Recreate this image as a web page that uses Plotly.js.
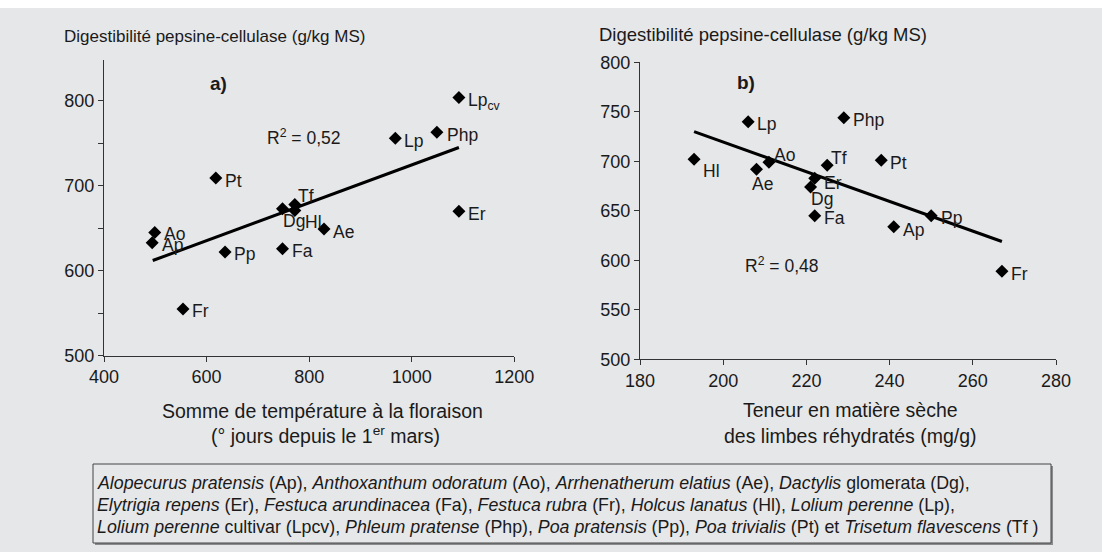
<!DOCTYPE html>
<html>
<head>
<meta charset="utf-8">
<script src="https://cdn.plot.ly/plotly-3.0.1.min.js"></script>
<style>
html,body{margin:0;padding:0;background:#ffffff;overflow:hidden;}
#chart{width:1102px;height:552px;}
</style>
</head>
<body>
<div id="chart"></div>
<script>
// ---------- data : panel a) ----------
const labelsA = ['Lp<sub>cv</sub>','Php','Lp','Er','Pt','Tf','Hl','Dg','Ae','Fa','Pp','Ao','Ap','Fr'];
const tempA   = [1092, 1049, 968, 1092, 618, 772, 772, 748, 829, 748, 636, 499, 494, 554];
const digA    = [804, 763, 756, 670, 709, 678, 671, 673, 649, 626, 622, 645, 633, 555];
const trendAx = [495, 1092];
const trendAy = [612, 745];
const r2A = 'R<sup>2</sup> = 0,52';

// ---------- data : panel b) ----------
const labelsB = ['Lp','Php','Hl','Ae','Ao','Tf','Er','Dg','Fa','Pt','Pp','Ap','Fr'];
const msB     = [206, 229, 193, 208, 211, 225, 222, 221, 222, 238, 250, 241, 267];
const digB    = [740, 744, 702, 692, 699, 696, 683, 674, 645, 701, 645, 634, 589];
const trendBx = [193, 267];
const trendBy = [730, 619];
const r2B = 'R<sup>2</sup> = 0,48';

// ---------- tick labels ----------
const yTicksA = [500, 550, 600, 650, 700, 750, 800];
const yTextA  = ['500', '', '600', '', '700', '', '800'];
const xTicksA = [400, 600, 800, 1000, 1200];
const yTicksB = [500, 550, 600, 650, 700, 750, 800];
const xTicksB = [180, 200, 220, 240, 260, 280];

// ---------- texts ----------
const yTitle = 'Digestibilité pepsine-cellulase (g/kg MS)';
const xTitleA = ['Somme de température à la floraison', '(° jours depuis le 1<sup>er</sup> mars)'];
const xTitleB = ['Teneur en matière sèche', 'des limbes réhydratés (mg/g)'];
const legendLines = [
  '<i>Alopecurus pratensis</i> (Ap), <i>Anthoxanthum odoratum</i> (Ao), <i>Arrhenatherum elatius</i> (Ae), <i>Dactylis</i> glomerata (Dg),',
  '<i>Elytrigia repens</i> (Er), <i>Festuca arundinacea</i> (Fa), <i>Festuca rubra</i> (Fr), <i>Holcus lanatus</i> (Hl), <i>Lolium perenne</i> (Lp),',
  '<i>Lolium perenne</i> cultivar (Lpcv), <i>Phleum pratense</i> (Php), <i>Poa pratensis</i> (Pp), <i>Poa trivialis</i> (Pt) et <i>Trisetum flavescens</i> (Tf )'
];

// ---------- label placement (pixel offsets from marker: right, down) ----------
const offA = [[9,4],[10,3],[9,3],[9,3],[9,3],[3,-8],[10,12],[1,12],[9,3],[10,2],[9,2],[9,2],[10,2],[9,2]];
const offB = [[9,2],[9,2],[9,12],[-4,15],[5,-7],[4,-7],[9,5],[0,12],[9,2],[9,3],[10,2],[9,3],[9,3]];

// ---------- layout helpers ----------
const W = 1102, H = 552;
const PX = v => v / W;
const PY = v => 1 - v / H;
const FONT = 'Liberation Sans, Arial, Helvetica, sans-serif';
const TXT = '#1a1a1a';
const BG = '#e6e7e9';

const marker = {symbol: 'diamond', size: 10, color: '#000000'};

const traces = [
  {x: trendAx, y: trendAy, xaxis: 'x', yaxis: 'y', mode: 'lines', line: {color: '#000', width: 3}, hoverinfo: 'skip'},
  {x: tempA, y: digA, xaxis: 'x', yaxis: 'y', mode: 'markers', marker: marker, cliponaxis: false},
  {x: trendBx, y: trendBy, xaxis: 'x2', yaxis: 'y2', mode: 'lines', line: {color: '#000', width: 3}, hoverinfo: 'skip'},
  {x: msB, y: digB, xaxis: 'x2', yaxis: 'y2', mode: 'markers', marker: marker, cliponaxis: false}
];

const axisCommon = {
  showline: true, linecolor: '#333', linewidth: 1, mirror: false,
  ticks: 'outside', ticklen: 5, tickcolor: '#333', tickwidth: 1,
  showgrid: false, zeroline: false, fixedrange: true,
  tickfont: {family: FONT, size: 18, color: TXT}
};

const annFont = (s, extra) => Object.assign({family: FONT, size: s, color: TXT}, extra || {});

const annotations = [
  // y titles
  {xref: 'paper', yref: 'paper', x: PX(62), y: PY(37), xanchor: 'left', yanchor: 'middle', text: yTitle, showarrow: false, font: annFont(17)},
  {xref: 'paper', yref: 'paper', x: PX(597), y: PY(34), xanchor: 'left', yanchor: 'middle', text: yTitle, showarrow: false, font: annFont(18.5)},
  // x titles
  {xref: 'paper', yref: 'paper', x: PX(322), y: PY(411), xanchor: 'center', yanchor: 'middle', text: xTitleA[0], showarrow: false, font: annFont(19.5)},
  {xref: 'paper', yref: 'paper', x: PX(325), y: PY(435), xanchor: 'center', yanchor: 'middle', text: xTitleA[1], showarrow: false, font: annFont(19.5)},
  {xref: 'paper', yref: 'paper', x: PX(850), y: PY(410), xanchor: 'center', yanchor: 'middle', text: xTitleB[0], showarrow: false, font: annFont(19.5)},
  {xref: 'paper', yref: 'paper', x: PX(850), y: PY(436), xanchor: 'center', yanchor: 'middle', text: xTitleB[1], showarrow: false, font: annFont(19.5)},
  // panel letters + R2
  {xref: 'x', yref: 'y', x: 624, y: 820, xanchor: 'center', yanchor: 'middle', text: '<b>a)</b>', showarrow: false, font: annFont(19)},
  {xref: 'x', yref: 'y', x: 714, y: 757, xanchor: 'left', yanchor: 'middle', text: r2A, showarrow: false, font: annFont(17.5)},
  {xref: 'x2', yref: 'y2', x: 205.5, y: 780, xanchor: 'center', yanchor: 'middle', text: '<b>b)</b>', showarrow: false, font: annFont(19)},
  {xref: 'x2', yref: 'y2', x: 204.7, y: 595, xanchor: 'left', yanchor: 'middle', text: r2B, showarrow: false, font: annFont(17.5)}
];
// point labels
labelsA.forEach((t, i) => annotations.push({xref: 'x', yref: 'y', x: tempA[i], y: digA[i], text: t,
  xanchor: 'left', yanchor: 'middle', xshift: offA[i][0] - 2, yshift: -offA[i][1], showarrow: false, font: annFont(17.5)}));
labelsB.forEach((t, i) => annotations.push({xref: 'x2', yref: 'y2', x: msB[i], y: digB[i], text: t,
  xanchor: 'left', yanchor: 'middle', xshift: offB[i][0] - 2, yshift: -offB[i][1], showarrow: false, font: annFont(17.5)}));
// legend text
const legY = [483, 505, 527];
legendLines.forEach((t, i) => {
  annotations.push({xref: 'paper', yref: 'paper', x: PX(95), y: PY(legY[i]), xanchor: 'left', yanchor: 'middle',
    text: t, showarrow: false, font: annFont(17.8)});
});

const shapes = [
  {type: 'rect', xref: 'paper', yref: 'paper', x0: 0, x1: 1, y0: PY(8), y1: 1, fillcolor: '#ffffff', line: {width: 0}, layer: 'below'},
  {type: 'rect', xref: 'paper', yref: 'paper', x0: PX(95), x1: PX(1053), y0: PY(545), y1: PY(466), fillcolor: '#8a8b8d', line: {width: 0}, layer: 'below'},
  {type: 'rect', xref: 'paper', yref: 'paper', x0: PX(93), x1: PX(1051), y0: PY(543), y1: PY(464), fillcolor: BG, line: {color: '#444', width: 1}, layer: 'below'}
];

const layout = {
  width: W, height: H,
  margin: {l: 0, r: 0, t: 0, b: 0, pad: 0},
  paper_bgcolor: BG, plot_bgcolor: 'rgba(0,0,0,0)',
  showlegend: false,
  font: {family: FONT, color: TXT},
  xaxis: Object.assign({}, axisCommon, {domain: [PX(104), PX(514.3)], range: [400, 1200], tickvals: xTicksA, anchor: 'y'}),
  yaxis: Object.assign({}, axisCommon, {domain: [PY(355.7), PY(60)], range: [500, 848], tickvals: yTicksA, ticktext: yTextA, anchor: 'x'}),
  xaxis2: Object.assign({}, axisCommon, {domain: [PX(640), PX(1056)], range: [180, 280], tickvals: xTicksB, anchor: 'y2'}),
  yaxis2: Object.assign({}, axisCommon, {domain: [PY(359.3), PY(62.3)], range: [500, 800], tickvals: yTicksB, anchor: 'x2'}),
  annotations: annotations,
  shapes: shapes
};

Plotly.newPlot('chart', traces, layout, {displayModeBar: false, staticPlot: true});
</script>
</body>
</html>
